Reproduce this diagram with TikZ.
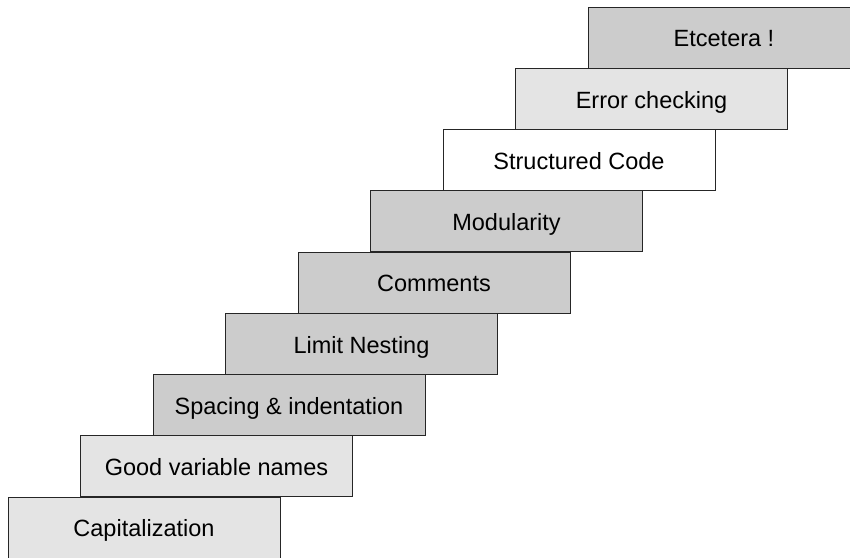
\documentclass[tikz,border=0pt]{standalone}
\usepackage{fontspec}
\setmainfont{Liberation Sans}
\definecolor{lightstep}{HTML}{E4E4E4}
\definecolor{darkstep}{HTML}{CCCCCC}

\begin{document}
\begin{tikzpicture}[x=1pt,y=-1pt,every node/.style={draw=black!85,line width=1pt,rectangle,
    minimum width=272pt,minimum height=61pt,inner sep=0pt,text height=18.4pt,text depth=0pt,
    font=\fontsize{23.5}{28}\selectfont}]
\useasboundingbox (0,0) rectangle (850,557);
\node[fill=lightstep] (cap)        at (144.0,527.5) { Capitalization };
\node[fill=lightstep] (names)      at (216.5,466.3) { Good variable names };
\node[fill=darkstep]  (spacing)    at (289.0,405.0) { Spacing \& indentation };
\node[fill=darkstep]  (nesting)    at (361.5,343.8) { Limit Nesting };
\node[fill=darkstep]  (comments)   at (434.0,282.5) { Comments };
\node[fill=darkstep]  (modular)    at (506.5,221.3) { Modularity };
\node[fill=white]     (structured) at (579.0,160.0) { Structured Code };
\node[fill=lightstep] (errors)     at (651.5,98.8)  { Error checking };
\node[fill=darkstep]  (etc)        at (724.0,37.5)  { Etcetera ! };
\end{tikzpicture}
\end{document}
